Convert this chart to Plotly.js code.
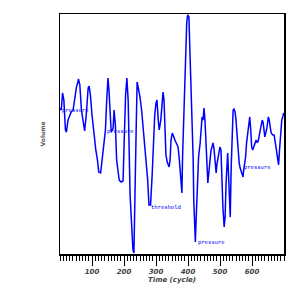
<!DOCTYPE html>
<html>
<head>
<meta charset="utf-8">
<script src="https://cdn.plot.ly/plotly-3.0.1.min.js"></script>
<style>html,body{margin:0;padding:0;background:#fff;}#chart{width:300px;height:300px;}</style>
</head>
<body>
<div id="chart"></div>
<script>
var timeCycle = [0,4,8,12,17,20,25,30,35,41,46,51,58,62,67,72,77,82,88,91,95,100,106,112,117,121,127,132,138,142,146,150,153,157,160,166,169,173,177,181,185,191,197,201,205,209,213,219,224,228,231,235,238,241,245,250,255,259,265,269,274,278,283,288,292,296,300,303,307,310,315,319,322,325,328,331,335,341,344,347,351,354,357,359,363,369,373,378,381,383,386,390,392,394,396,399,403,404,406,409,413,416,418,421,423,425,427,430,433,438,441,444,447,450,453,456,459,462,465,468,472,475,478,481,484,488,491,494,497,500,503,506,509,513,516,519,522,524,527,530,532,535,538,541,544,547,550,553,556,560,563,567,570,572,574,577,580,583,588,590,593,596,599,602,605,609,613,617,620,624,629,632,635,640,643,647,651,654,657,660,665,669,673,677,680,683,686,690,693,696,699];
var volume = [60.8,60.0,67.1,64.2,51.7,50.8,55.8,57.9,59.2,60.0,65.4,69.2,72.9,70.4,60.0,55.0,51.3,57.9,69.2,70.0,66.3,57.9,49.6,43.3,39.2,34.2,33.8,39.2,47.5,51.7,64.2,73.3,68.3,55.8,50.8,52.5,60.0,53.8,39.2,35.0,30.8,30.0,30.4,48.8,66.3,73.3,64.2,24.6,14.2,1.7,0.4,22.5,51.7,71.7,69.2,65.4,60.0,53.8,45.4,39.2,30.8,20.4,20.4,32.9,45.4,57.9,62.9,64.2,55.8,51.7,55.8,64.2,67.5,64.2,53.8,41.3,38.3,36.3,39.2,47.5,50.4,48.8,48.3,47.5,46.3,44.6,39.2,32.1,25.4,40.4,55.8,73.8,83.8,90.4,96.3,99.6,98.8,93.3,83.8,72.5,60.0,40.4,22.5,14.2,5.0,12.9,21.3,32.1,40.4,46.3,51.7,57.1,55.8,60.8,55.8,46.3,37.9,29.6,33.8,39.2,43.3,44.6,46.3,44.2,37.9,33.8,37.9,40.4,43.3,44.6,43.3,29.6,19.6,11.3,15.4,29.6,40.4,42.1,32.1,19.6,15.4,36.3,47.5,60.0,60.4,59.2,55.8,50.4,43.3,37.9,35.8,33.8,32.9,32.1,35.0,37.9,40.4,46.3,52.9,55.8,57.1,51.7,44.6,43.3,44.6,46.7,47.5,46.3,47.5,50.4,54.6,55.8,54.6,48.8,50.4,52.9,57.1,55.8,52.9,50.4,49.6,49.6,46.3,42.1,39.2,37.1,43.3,51.7,55.8,57.1,58.8];
var xTickVals = [100,200,300,400,500,600];
var xTickText = ["100","200","300","400","500","600"];
var labelText = ["pressure","pressure","threshold","pressure","pressure"];
var labelX = [0,140,278,425,569];
var labelY = [60,51,19.6,4.6,36];

var annotations = labelText.map(function(t,i){
  return {x:labelX[i], y:labelY[i], xref:'x', yref:'y', text:t, showarrow:false,
    xanchor:'left', yanchor:'middle',
    font:{family:'DejaVu Sans Mono, monospace', size:5.5, color:'#0000ff'}};
});

var trace = {x:timeCycle, y:volume, type:'scatter', mode:'lines',
  line:{color:'#0000ff', width:1.5}, hoverinfo:'none'};

var layout = {
  width:300, height:300,
  margin:{l:60, r:16, t:14, b:46, pad:0},
  paper_bgcolor:'#ffffff', plot_bgcolor:'#ffffff',
  showlegend:false,
  xaxis:{range:[0,700], showgrid:false, zeroline:false,
    showline:true, mirror:true, linecolor:'#000', linewidth:1.5,
    tickmode:'array', tickvals:xTickVals, ticktext:xTickText,
    ticks:'outside', ticklen:10, tickwidth:1, tickcolor:'#000',
    minor:{dtick:10, tick0:0, ticks:'outside', ticklen:5, tickwidth:1, tickcolor:'#000', showgrid:false},
    tickfont:{family:'DejaVu Sans', size:7, color:'#444', weight:'bold', style:'italic'},
    title:{text:'Time (cycle)', standoff:0, font:{family:'DejaVu Sans', size:7, color:'#444', weight:'bold', style:'italic'}}
  },
  yaxis:{range:[0,100], showgrid:false, zeroline:false,
    showline:true, mirror:true, linecolor:'#000', linewidth:1.5,
    showticklabels:false, ticks:'',
    title:{text:'Volume', standoff:12, font:{family:'DejaVu Sans', size:6, color:'#555', weight:'bold'}}
  },
  annotations:annotations
};
Plotly.newPlot('chart',[trace],layout,{staticPlot:true, displayModeBar:false});
</script>
</body>
</html>
